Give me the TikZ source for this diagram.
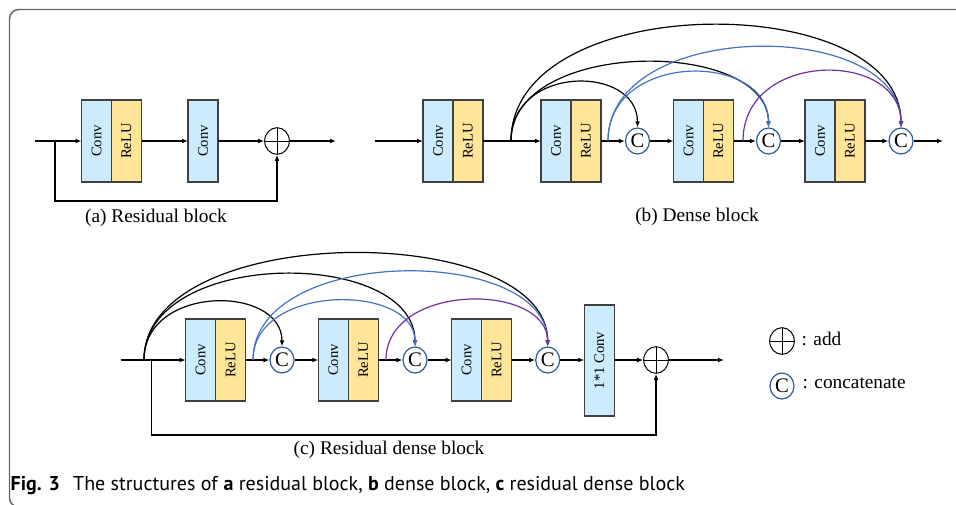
\documentclass[tikz,border=0pt]{standalone}
\usepackage{fontspec}
\setmainfont{Liberation Serif}
\newfontfamily\capfont{PT Sans}
\usepackage{graphicx}
\usetikzlibrary{positioning,arrows.meta,shapes.geometric}

\definecolor{convblue}{HTML}{CCEBFC}
\definecolor{reluyellow}{HTML}{FEE597}
\definecolor{boxgray}{HTML}{404040}
\definecolor{catblue}{HTML}{2F5A9E}
\definecolor{arcblue}{HTML}{4472C4}
\definecolor{arcpurple}{HTML}{7030A0}
\definecolor{framegray}{HTML}{666666}

\tikzset{every picture/.style={line width=0.9pt}}
\tikzset{
  convbox/.style={draw=boxgray, fill=convblue, minimum width=22.5pt, minimum height=61.5pt,
    inner sep=0pt, outer sep=0pt, font=\fontsize{11}{11}\selectfont},
  relubox/.style={convbox, fill=reluyellow},
  catnode/.style={ellipse, draw=catblue, fill=white, minimum width=18pt, minimum height=19.5pt,
    inner sep=0pt, font=\fontsize{15.5}{15.5}\selectfont},
  addnode/.style={ellipse, draw, line width=0.75pt, minimum width=18.5pt, minimum height=20pt, inner sep=0pt,
    path picture={\draw [line width=0.6pt] (path picture bounding box.north) -- (path picture bounding box.south)
      (path picture bounding box.west) -- (path picture bounding box.east);}},
  flow/.style={-{Latex[length=4.5pt,width=3.6pt]}},
  caption/.style={font=\fontsize{14.5}{16}\selectfont},
}

\begin{document}
\begin{tikzpicture}[x=0.75pt,y=0.75pt,yscale=-1,xscale=1]
  \useasboundingbox (0,0) rectangle (956,504);
  \clip (0,0) rectangle (956,504);
  \draw [framegray, line width=1.1pt, rounded corners=7pt] (9.5,9.5) rectangle (1000,507);

  % (a) residual block
  \coordinate (ain) at (35,141);
  \coordinate (askip) at (55,141);
  \coordinate (aout) at (336,141);
  \node [convbox] (aconv1) at (96.5,141) {\rotatebox{90}{Conv}};
  \node [relubox, right=0pt of aconv1] (arelu1) {\rotatebox{90}{ReLU}};
  \node [convbox] (aconv2) at (203,141) {\rotatebox{90}{Conv}};
  \node [addnode] (aadd) at (277,141) {};

  \draw [flow] (ain) -- (aconv1);
  \draw [flow] (arelu1) -- (aconv2);
  \draw [flow] (aconv2) -- (aadd);
  \draw [flow] (aadd) -- (aout);
  \draw [flow] (askip) -- (55,201) -| (aadd.south);
  \node [caption] (alabel) at (156,218) {(a) Residual block};

  % (b) dense block
  \coordinate (bin) at (375,141);
  \coordinate (bsplit1) at (511,141);
  \coordinate (bsplit2) at (608,141);
  \coordinate (bsplit3) at (743,141);
  \coordinate (bout) at (943,141);
  \node [convbox] (bconv1) at (438,141) {\rotatebox{90}{Conv}};
  \node [relubox, right=0pt of bconv1] (brelu1) {\rotatebox{90}{ReLU}};
  \node [convbox] (bconv2) at (556,141) {\rotatebox{90}{Conv}};
  \node [relubox, right=0pt of bconv2] (brelu2) {\rotatebox{90}{ReLU}};
  \node [catnode] (bcat1) at (637.5,141) {C};
  \node [convbox] (bconv3) at (688.5,141) {\rotatebox{90}{Conv}};
  \node [relubox, right=0pt of bconv3] (brelu3) {\rotatebox{90}{ReLU}};
  \node [catnode] (bcat2) at (768.5,141) {C};
  \node [convbox] (bconv4) at (820,141) {\rotatebox{90}{Conv}};
  \node [relubox, right=0pt of bconv4] (brelu4) {\rotatebox{90}{ReLU}};
  \node [catnode] (bcat3) at (901,141) {C};

  \draw [flow] (bin) -- (bconv1);
  \draw [flow] (brelu1) -- (bconv2);
  \draw [flow] (brelu2) -- (bcat1);
  \draw [flow] (bcat1) -- (bconv3);
  \draw [flow] (brelu3) -- (bcat2);
  \draw [flow] (bcat2) -- (bconv4);
  \draw [flow] (brelu4) -- (bcat3);
  \draw [flow] (bcat3) -- (bout);

  \draw [flow] (bsplit1) .. controls (511,64.5) and (637.5,64.5) .. (bcat1.north);
  \draw [flow] (bsplit1) .. controls (511,37.9) and (768.5,37.9) .. (bcat2.north);
  \draw [flow] (bsplit1) .. controls (511,-11.5) and (901,-11.5) .. (bcat3.north);
  \draw [flow, arcblue] (bsplit2) .. controls (608,51.2) and (768.5,51.2) .. (bcat2.north);
  \draw [flow, arcblue] (bsplit2) .. controls (608,17.9) and (901,17.9) .. (bcat3.north);
  \draw [flow, arcpurple] (bsplit3) .. controls (743,49.9) and (901,49.9) .. (bcat3.north);
  \node [caption] (blabel) at (697,217) {(b) Dense block};

  % (c) residual dense block
  \coordinate (cin) at (120.7,360);
  \coordinate (csplit1) at (144,360);
  \coordinate (cskip) at (151.7,360);
  \coordinate (csplit2) at (253,360);
  \coordinate (csplit3) at (386,360);
  \coordinate (cout) at (724,360);
  \node [convbox] (cconv1) at (200.7,360) {\rotatebox{90}{Conv}};
  \node [relubox, right=0pt of cconv1] (crelu1) {\rotatebox{90}{ReLU}};
  \node [catnode] (ccat1) at (282,360) {C};
  \node [convbox] (cconv2) at (333.3,360) {\rotatebox{90}{Conv}};
  \node [relubox, right=0pt of cconv2] (crelu2) {\rotatebox{90}{ReLU}};
  \node [catnode] (ccat2) at (415,360) {C};
  \node [convbox] (cconv3) at (466.7,360) {\rotatebox{90}{Conv}};
  \node [relubox, right=0pt of cconv3] (crelu3) {\rotatebox{90}{ReLU}};
  \node [catnode] (ccat3) at (547.7,360) {C};
  \node [convbox, minimum height=83.25pt] (cfuse) at (599.3,360.5) {\rotatebox{90}{1*1 Conv}};
  \node [addnode] (cadd) at (656,360) {};

  \draw [flow] (cin) -- (cconv1);
  \draw [flow] (crelu1) -- (ccat1);
  \draw [flow] (ccat1) -- (cconv2);
  \draw [flow] (crelu2) -- (ccat2);
  \draw [flow] (ccat2) -- (cconv3);
  \draw [flow] (crelu3) -- (ccat3);
  \draw [flow] (ccat3) -- (cfuse.west |- ccat3);
  \draw [flow] (cfuse.east |- cadd) -- (cadd);
  \draw [flow] (cadd) -- (cout);
  \draw [flow] (cskip) -- (151.7,435) -| (cadd.south);

  \draw [flow] (csplit1) .. controls (144,284.4) and (282,284.4) .. (ccat1.north);
  \draw [flow] (csplit1) .. controls (144,247.5) and (415,247.5) .. (ccat2.north);
  \draw [flow] (csplit1) .. controls (144,219.9) and (547.7,219.9) .. (ccat3.north);
  \draw [flow, arcblue] (csplit2) .. controls (253,283) and (415,283) .. (ccat2.north);
  \draw [flow, arcblue] (csplit2) .. controls (253,244.4) and (547.7,244.4) .. (ccat3.north);
  \draw [flow, arcpurple] (csplit3) .. controls (386,282.1) and (547.7,282.1) .. (ccat3.north);
  \node [caption] (clabel) at (389,450) {(c) Residual dense block};

  % legend
  \node [addnode] (keyadd) at (782,341) {};
  \node [catnode] (keycat) at (782,386) {C};
  \node [caption, anchor=west, inner sep=0pt] (keyaddtext) at (801,339) {: add};
  \node [caption, anchor=west, inner sep=0pt] (keycattext) at (802,383) {: concatenate};

  % figure caption
  \node [anchor=base west, inner sep=0pt, font=\capfont\fontsize{15}{17}\selectfont] (figcap) at (10,490)
    {\textbf{Fig. 3}\hspace{0.4em} The structures of \textbf{a} residual block, \textbf{b} dense block, \textbf{c} residual dense block};
\end{tikzpicture}
\end{document}
